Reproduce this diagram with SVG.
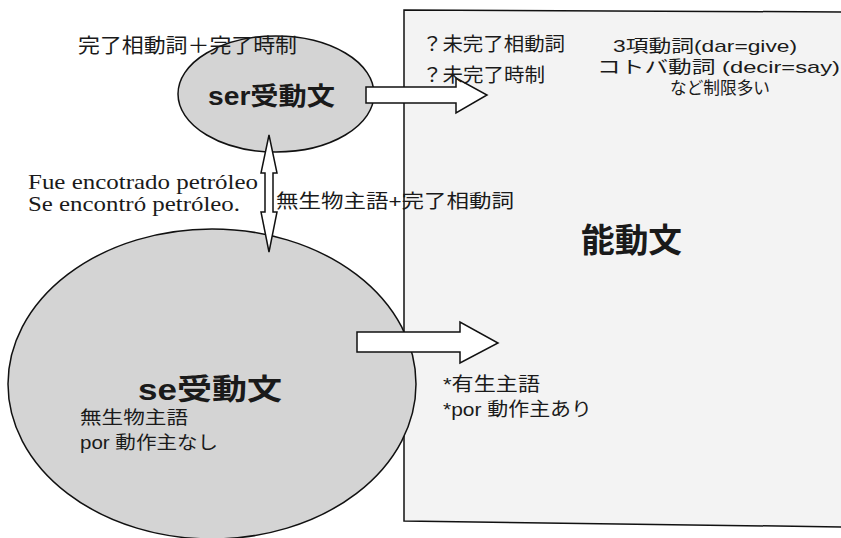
<svg xmlns="http://www.w3.org/2000/svg" width="841" height="538" viewBox="0 0 841 538">
<style>
.shape{stroke:#111;stroke-width:1.5}
.ell{fill:#d4d4d4}
.box{fill:#f3f3f3}
.arrow{fill:#fff;stroke:#111;stroke-width:1.5;stroke-linejoin:miter}
.t{font-family:"Liberation Sans","Noto Sans CJK JP",sans-serif;fill:#1a1a1a}
.s{font-family:"Liberation Serif","Noto Sans CJK JP",serif;fill:#1a1a1a}
.b{font-weight:bold}
</style>
<rect width="841" height="538" fill="#fff"/>
<g id="active">
<polygon class="shape box" points="404,10 846,12 846,527 404,521"/>
<text class="t" x="581" y="252" font-size="33" font-weight="bold" textLength="101" lengthAdjust="spacingAndGlyphs">能動文</text>
<text class="t" x="613" y="52" font-size="17" textLength="184" lengthAdjust="spacingAndGlyphs">3項動詞(dar=give)</text>
<text class="t" x="597" y="73" font-size="17" textLength="243" lengthAdjust="spacingAndGlyphs">コトバ動詞 (decir=say)</text>
<text class="t" x="670" y="94" font-size="17" textLength="100" lengthAdjust="spacingAndGlyphs">など制限多い</text>
</g>
<g id="se">
<ellipse class="shape ell" cx="212" cy="384" rx="204" ry="155"/>
<text class="t b" x="138" y="400" font-size="29" textLength="144" lengthAdjust="spacingAndGlyphs">se受動文</text>
<text class="t" x="80" y="424" font-size="18" textLength="108" lengthAdjust="spacingAndGlyphs">無生物主語</text>
<text class="t" x="80" y="449" font-size="18" textLength="138" lengthAdjust="spacingAndGlyphs">por 動作主なし</text>
</g>
<g id="ser">
<ellipse class="shape ell" cx="276" cy="94" rx="98" ry="58"/>
<text class="t b" x="208" y="105" font-size="25" textLength="127" lengthAdjust="spacingAndGlyphs">ser受動文</text>
</g>
<g id="connectors">
<polygon class="arrow" points="366,87 456,87 456,78 487,95 456,113 456,103 366,103"/>
<polygon class="arrow" points="357,332 460,332 460,322 498,343 460,363 460,352 357,352"/>
<polygon class="arrow" points="269,135 277,173 273,173 273,212 277,212 269,252 261,212 265,212 265,173 261,173"/>
</g>
<g id="labels">
<text class="t" x="78" y="53" font-size="20" textLength="219" lengthAdjust="spacingAndGlyphs">完了相動詞＋完了時制</text>
<text class="t" x="422" y="51" font-size="19" textLength="143" lengthAdjust="spacingAndGlyphs">？未完了相動詞</text>
<text class="t" x="422" y="82" font-size="19" textLength="123" lengthAdjust="spacingAndGlyphs">？未完了時制</text>
<text class="s" x="28" y="189" font-size="21" textLength="230" lengthAdjust="spacingAndGlyphs">Fue encotrado petróleo</text>
<text class="s" x="28" y="211" font-size="21" textLength="212" lengthAdjust="spacingAndGlyphs">Se encontró petróleo.</text>
<text class="t" x="276" y="208" font-size="19" textLength="238" lengthAdjust="spacingAndGlyphs">無生物主語+完了相動詞</text>
<text class="t" x="443" y="391" font-size="19" textLength="97" lengthAdjust="spacingAndGlyphs">*有生主語</text>
<text class="t" x="443" y="416" font-size="19" textLength="149" lengthAdjust="spacingAndGlyphs">*por 動作主あり</text>
</g>
</svg>
